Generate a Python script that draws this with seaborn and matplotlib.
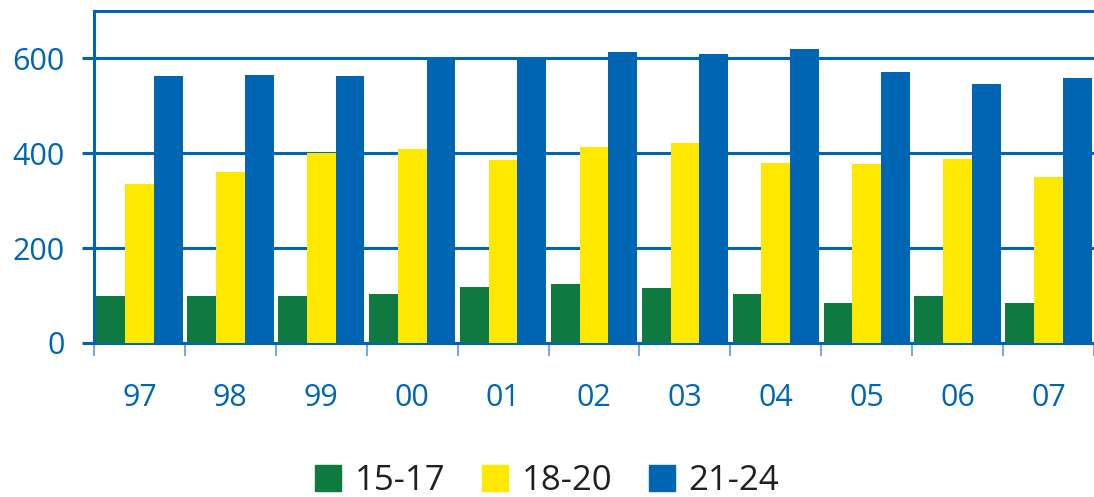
import matplotlib.pyplot as plt
import pandas as pd
import seaborn as sns
import numpy as np

years = ['97', '98', '99', '00', '01', '02', '03', '04', '05', '06', '07']
groups = ['15-17', '18-20', '21-24']
v_15_17 = [100, 100, 100, 104, 118, 125, 115, 104, 84, 100, 84]
v_18_20 = [336, 361, 400, 408, 385, 414, 422, 380, 378, 389, 349]
v_21_24 = [563, 566, 563, 600, 600, 613, 609, 619, 571, 546, 558]

df = pd.DataFrame({
    'year': years * 3,
    'group': [groups[0]] * 11 + [groups[1]] * 11 + [groups[2]] * 11,
    'value': v_15_17 + v_18_20 + v_21_24,
})

blue = '#0066B3'
colors = ['#0E7A3F', '#FFE800', blue]

sns.set_style('white')
plt.rcParams['font.family'] = ['Open Sans', 'DejaVu Sans']

fig = plt.figure(figsize=(10.94, 4.97), dpi=100)
ax = fig.add_axes([94 / 1094, 1 - 343 / 497, 1 - 94 / 1094, (343 - 11) / 497])

sns.barplot(data=df, x='year', y='value', hue='group', order=years, hue_order=groups,
            palette=colors, saturation=1, width=0.95, gap=0, linewidth=0,
            legend=False, ax=ax, zorder=3)

ax.set_ylim(0, 700)
ax.set_xlim(-0.5, len(years) - 0.5)
ax.set_yticks([0, 200, 400, 600])
ax.grid(axis='y', color=blue, linewidth=2.2, zorder=0)
ax.set_axisbelow(True)
ax.set_xlabel('')
ax.set_ylabel('')

for s in ['left', 'top', 'bottom']:
    ax.spines[s].set_color(blue)
    ax.spines[s].set_linewidth(2.2)
ax.spines['right'].set_visible(False)

ax.tick_params(axis='y', colors=blue, labelsize=22, length=9, width=2.2, pad=12, left=True)
ax.tick_params(axis='x', which='major', colors=blue, labelsize=22, length=0, pad=29)
ax.set_xticks(np.arange(len(years) + 1) - 0.5, minor=True)
ax.tick_params(axis='x', which='minor', color='#7BAAD8', length=9, width=1.5, bottom=True)

handles = [plt.Rectangle((0, 0), 1, 1, color=c) for c in colors]
fig.legend(handles, groups, loc='center', bbox_to_anchor=(0.5, 1 - 481 / 497), ncol=3,
           frameon=False, fontsize=25, handlelength=0.75, handleheight=0.75,
           handletextpad=0.4, columnspacing=1.05, labelcolor='#231F20')

fig.savefig('out.png', dpi=100)
